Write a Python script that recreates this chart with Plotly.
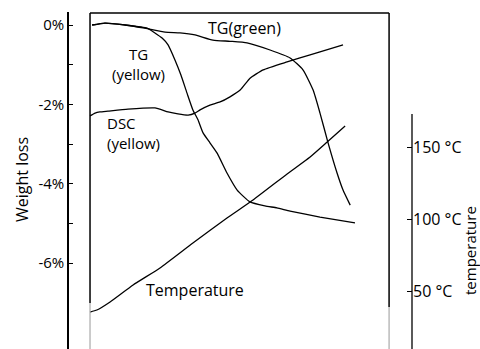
import plotly.graph_objects as go

# ---- data (time axis is unlabeled: box spans 0..100 units) ----
time_tg_green = [0.7, 5.0, 11.7, 18.4, 25.1, 30.1, 35.1, 41.1, 46.8, 52.5, 60.2, 66.9,
                 71.2, 74.6, 76.9, 79.6, 82.6, 84.6, 87.0]
tg_green = [0, 0.05, 0, -0.08, -0.18, -0.2, -0.25, -0.38, -0.41, -0.45, -0.63, -0.83,
            -1.13, -1.64, -2.22, -2.97, -3.73, -4.16, -4.54]

time_tg_yellow = [0.7, 5.0, 11.7, 19.1, 21.7, 24.1, 26.1, 28.4, 30.4, 32.4, 34.4, 36.1,
                  37.8, 40.1, 42.5, 45.8, 49.2, 53.5, 58.5, 62.5, 66.9, 76.9, 88.6]
tg_yellow = [0, 0.05, 0, -0.08, -0.2, -0.33, -0.5, -0.88, -1.26, -1.71, -2.14, -2.39,
             -2.72, -2.97, -3.23, -3.73, -4.16, -4.46, -4.56, -4.61, -4.69, -4.84, -4.99]

time_dsc = [0, 1.7, 3.3, 6.0, 12.7, 21.7, 26.1, 29.4, 32.8, 35.1, 36.8, 40.1, 43.5,
            46.8, 50.2, 53.5, 57.9, 65.9, 70.2, 76.9, 84.6]
dsc_yellow = [-2.29, -2.22, -2.19, -2.17, -2.12, -2.09, -2.19, -2.24, -2.27, -2.22, -2.14,
              -2.02, -1.94, -1.81, -1.64, -1.34, -1.13, -0.93, -0.83, -0.68, -0.50]

time_temp = [0, 2.3, 6.7, 14.4, 23.4, 34.4, 45.8, 54.5, 65.9, 73.6, 79.3, 85.3]
temperature = [35.4, 36.8, 42.4, 54.2, 66.0, 83.3, 100.7, 113.2, 131.3, 143.1, 153.5, 164.6]

weight_ticks = [0, -1, -2, -3, -4, -5, -6]
weight_ticktext = ["0%", "", "-2%", "", "-4%", "", "-6%"]
temp_ticks = [50, 100, 150]
temp_ticktext = ["50 °C", "100 °C", "150 °C"]

W, H = 480, 349
TOP = 12
FONT = "Open Sans, DejaVu Sans, sans-serif"


def px_x(p):
    return p / W


def px_y(p):
    return (H - p) / (H - TOP)


curve = dict(color="black", width=1.3, shape="spline", smoothing=0.5)

fig = go.Figure()
fig.add_trace(go.Scatter(x=time_tg_green, y=tg_green, mode="lines", line=curve, name="TG(green)"))
fig.add_trace(go.Scatter(x=time_tg_yellow, y=tg_yellow, mode="lines", line=curve, name="TG(yellow)"))
fig.add_trace(go.Scatter(x=time_dsc, y=dsc_yellow, mode="lines", line=curve, name="DSC(yellow)"))
fig.add_trace(go.Scatter(x=time_temp, y=temperature, mode="lines", line=curve,
                         name="Temperature", yaxis="y2"))

fig.update_layout(
    width=W, height=H,
    margin=dict(l=0, r=0, t=TOP, b=0, pad=0),
    paper_bgcolor="white", plot_bgcolor="white",
    showlegend=False,
    font=dict(family=FONT, color="black", size=15),
    xaxis=dict(range=[-30.1, 130.4], visible=False, domain=[0, 1]),
    yaxis=dict(range=[-8.167, 0.328], anchor="free", position=68 / W, side="left",
               showline=True, linecolor="black", linewidth=1.5,
               ticks="inside", ticklen=4, tickwidth=1.2, tickcolor="black",
               tickvals=weight_ticks, ticktext=weight_ticktext,
               showgrid=False, zeroline=False, tickfont=dict(size=15)),
    yaxis2=dict(range=[9.72, 243.75], overlaying="y", anchor="free", position=412 / W,
                side="right", showline=False, ticks="inside", ticklen=5, tickwidth=1.2,
                tickcolor="black", tickvals=temp_ticks, ticktext=temp_ticktext,
                showgrid=False, zeroline=False, tickfont=dict(size=16)),
)

box = dict(color="black", width=1.5)
gray = dict(color="#aaaaaa", width=1.2)
shapes = [
    dict(type="line", xref="x", yref="paper", x0=0, x1=100, y0=px_y(13), y1=px_y(13), line=box),
    dict(type="line", xref="x", yref="paper", x0=0, x1=0, y0=px_y(303), y1=px_y(13), line=box),
    dict(type="line", xref="x", yref="paper", x0=0, x1=0, y0=0, y1=px_y(303), line=gray),
    dict(type="line", xref="x", yref="paper", x0=100, x1=100, y0=px_y(307), y1=px_y(13), line=box),
    dict(type="line", xref="x", yref="paper", x0=100, x1=100, y0=0, y1=px_y(307), line=gray),
    dict(type="line", xref="paper", yref="paper", x0=px_x(412), x1=px_x(412), y0=0, y1=px_y(114),
         line=dict(color="black", width=1.3)),
]
fig.update_layout(shapes=shapes)

labels = [
    ("TG(green)", 245, 28, "center", "center", 0, 16),
    ("TG<br>(yellow)", 138, 64, "center", "center", 0, 15),
    ("DSC<br>(yellow)", 106, 133, "left", "left", 0, 15),
    ("Temperature", 145, 290, "left", "left", 0, 16),
    ("Weight loss", 22, 180, "center", "center", -90, 16),
    ("temperature", 470, 251, "center", "center", -90, 15),
]
for text, x, y, xa, al, ang, sz in labels:
    fig.add_annotation(text=text, x=px_x(x), y=px_y(y), xref="paper", yref="paper",
                       xanchor=xa, yanchor="middle", align=al, showarrow=False,
                       textangle=ang, font=dict(size=sz, family=FONT, color="black"),
                       borderpad=0)

fig.write_html("out.html")
